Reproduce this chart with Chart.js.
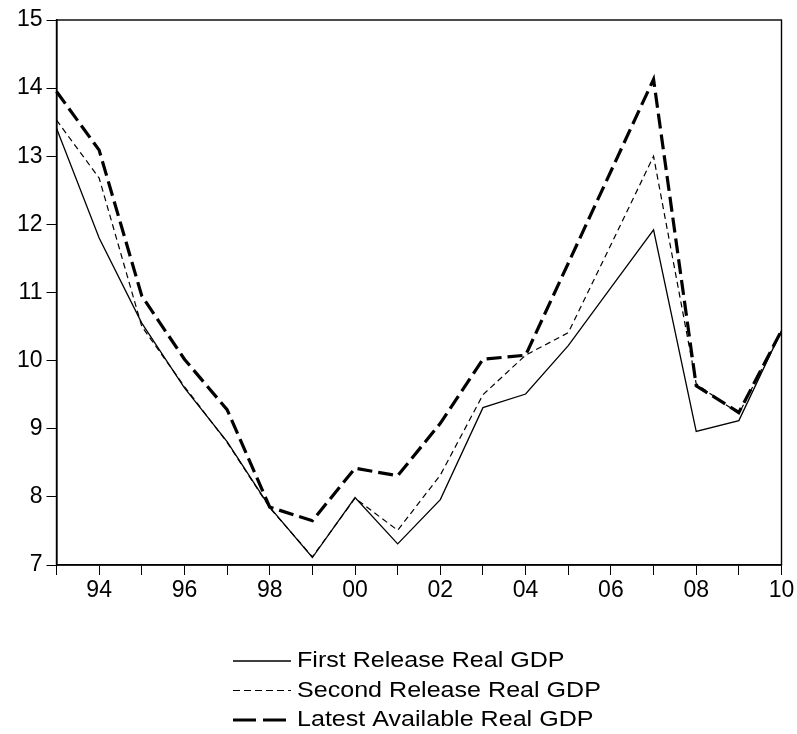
<!DOCTYPE html>
<html>
<head>
<meta charset="utf-8">
<script src="https://cdn.jsdelivr.net/npm/chart.js@4"></script>
<style>
  html, body { margin: 0; padding: 0; background: #fff; }
  canvas { display: block; }
</style>
</head>
<body>
<canvas id="chart" width="797" height="734"></canvas>
<script>
// Datos (crecimiento del PIB real por año)
const years = [1993, 1994, 1995, 1996, 1997, 1998, 1999, 2000, 2001, 2002,
  2003, 2004, 2005, 2006, 2007, 2008, 2009, 2010];
const firstRelease = [13.41, 11.80, 10.55, 9.60, 8.81, 7.85, 7.11, 7.99, 7.31, 7.96,
  9.31, 9.51, 10.22, 11.07, 11.92, 8.96, 9.12, 10.44];
const secondRelease = [13.53, 12.68, 10.50, 9.62, 8.80, 7.84, 7.12, 7.98, 7.51, 8.32,
  9.50, 10.08, 10.41, 11.70, 13.00, 9.66, 9.22, 10.44];
const latestAvailable = [13.95, 13.09, 10.95, 10.02, 9.28, 7.85, 7.65, 8.42, 8.31, 9.08,
  10.02, 10.08, 11.43, 12.78, 14.13, 9.63, 9.24, 10.44];
const seriesNames = ["First Release Real GDP", "Second Release Real GDP", "Latest Available Real GDP"];
const yTicks = [7, 8, 9, 10, 11, 12, 13, 14, 15];

const FONT = "'Liberation Sans', Arial, sans-serif";

// Marco completo alrededor del area del grafico
const framePlugin = {
  id: "frame",
  afterDraw(chart) {
    const { ctx, chartArea: a } = chart;
    ctx.save();
    ctx.strokeStyle = "#000";
    ctx.lineWidth = 1.4;
    ctx.strokeRect(a.left, a.top, a.right - a.left, a.bottom - a.top);
    ctx.restore();
  },
};

// Leyenda apilada debajo del grafico, una serie por renglon
const stackedLegend = {
  id: "stackedLegend",
  afterDraw(chart) {
    const ctx = chart.ctx;
    const x0 = 233, len = 58, textX = 297;
    const rowY = [661, 690.5, 720];
    ctx.save();
    chart.data.datasets.forEach((ds, i) => {
      const y = rowY[i];
      ctx.beginPath();
      ctx.strokeStyle = ds.borderColor;
      ctx.lineWidth = ds.borderWidth;
      ctx.setLineDash(ds.legendDash || []);
      ctx.moveTo(x0, y);
      ctx.lineTo(x0 + len, y);
      ctx.stroke();
      ctx.setLineDash([]);
      // el texto original es algo mas ancho que Arial
      ctx.save();
      ctx.translate(textX, y);
      ctx.scale(1.14, 1);
      ctx.fillStyle = "#000";
      ctx.font = "22px " + FONT;
      ctx.textBaseline = "middle";
      ctx.textAlign = "left";
      ctx.fillText(ds.label, 0, 0);
      ctx.restore();
    });
    ctx.restore();
  },
};

const ctx = document.getElementById("chart").getContext("2d");

new Chart(ctx, {
  type: "line",
  data: {
    labels: years,
    datasets: [
      {
        label: seriesNames[0],
        data: firstRelease,
        borderColor: "#000",
        borderWidth: 1.3,
        borderDash: [],
        legendDash: [],
        pointRadius: 0,
        tension: 0,
        fill: false,
      },
      {
        label: seriesNames[1],
        data: secondRelease,
        borderColor: "#000",
        borderWidth: 1.2,
        borderDash: [6, 4],
        legendDash: [7, 4],
        pointRadius: 0,
        tension: 0,
        fill: false,
      },
      {
        label: seriesNames[2],
        data: latestAvailable,
        borderColor: "#000",
        borderWidth: 3.2,
        borderDash: [15, 6],
        legendDash: [23, 7],
        pointRadius: 0,
        tension: 0,
        fill: false,
      },
    ],
  },
  options: {
    responsive: false,
    animation: false,
    layout: {
      padding: { top: 20, right: 15.5, bottom: 129, left: 0 },
    },
    plugins: {
      legend: { display: false },
      tooltip: { enabled: false },
      title: { display: false },
    },
    scales: {
      x: {
        type: "category",
        offset: false,
        afterFit(scale) {
          scale.height = 40;
        },
        grid: {
          drawOnChartArea: false,
          drawTicks: true,
          tickLength: 10,
          color: "#000",
          lineWidth: 1,
        },
        border: { display: true, color: "#000", width: 1.6 },
        ticks: {
          autoSkip: false,
          maxRotation: 0,
          padding: 2,
          color: "#000",
          font: { family: FONT, size: 23 },
          callback: function (value, index) {
            const yr = years[index];
            return yr % 2 === 0 ? String(yr).slice(2) : "";
          },
        },
      },
      y: {
        min: yTicks[0],
        max: yTicks[yTicks.length - 1],
        afterFit(scale) {
          scale.width = 56.5;
        },
        afterBuildTicks(scale) {
          scale.ticks = yTicks.map((v) => ({ value: v }));
        },
        grid: {
          drawOnChartArea: false,
          drawTicks: true,
          tickLength: 10,
          color: "#000",
          lineWidth: 1,
        },
        border: { display: true, color: "#000", width: 1.6 },
        ticks: {
          padding: 4,
          color: "#000",
          font: { family: FONT, size: 23 },
        },
      },
    },
  },
  plugins: [framePlugin, stackedLegend],
});
</script>
</body>
</html>
